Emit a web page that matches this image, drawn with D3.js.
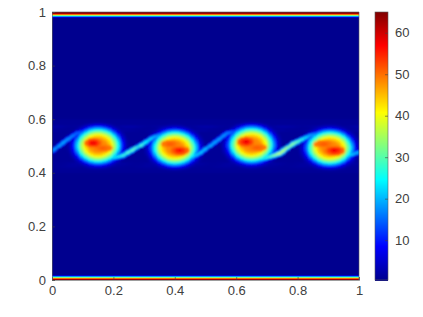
<!DOCTYPE html>
<html><head><meta charset="utf-8">
<style>html,body{margin:0;padding:0;background:#fff;overflow:hidden}svg{display:block}text{font-family:"Liberation Sans",Arial,sans-serif;font-size:13px;fill:#404040}</style>
<script src="https://cdnjs.cloudflare.com/ajax/libs/d3/7.8.5/d3.min.js"></script>
</head><body><script>
const xTicks=[0,0.2,0.4,0.6,0.8,1];
const yTicks=[0,0.2,0.4,0.6,0.8,1];
const cbTicks=[10,20,30,40,50,60];
const cbDomain=[0.4,65];
const jetStops=["#00008f","#0000ff","#0080ff","#00ffff","#80ff80","#ffff00","#ff8000","#ff0000","#800000"];
// vortices
const vortexX=[0.150,0.400,0.650,0.905];
const vortexY=[0.503,0.495,0.506,0.495];
const vortexRx=[0.080,0.080,0.080,0.082];
const vortexRy=[0.071,0.069,0.071,0.069];
// two hot patches inside each vortex: [x, y, rx, ry, peak]
const hotA=[[0.135,0.514,0.030,0.020,60],[0.415,0.484,0.034,0.020,58],[0.632,0.518,0.030,0.020,60],[0.920,0.484,0.036,0.021,59]];
const hotB=[[0.165,0.494,0.034,0.017,52],[0.385,0.510,0.032,0.016,52],[0.668,0.496,0.034,0.017,52],[0.885,0.510,0.034,0.016,52]];
const ringRadius=[0,0.35,0.52,0.66,0.78,0.88,1,1.12,1.28];
const ringValue=[49,48,43,36,28,20,10,4,1];
// filaments: x, y, value, half-width
const filaments=[
 [[0,0.481,20,.012],[0.04,0.519,22,.012],[0.081,0.549,17,.013],[0.124,0.562,10,.015]],
 [[0.14,0.444,12,.014],[0.179,0.452,23,.013],[0.231,0.466,30,.013],[0.261,0.485,34,.012],[0.287,0.504,32,.012],[0.329,0.534,24,.012],[0.384,0.558,10,.015]],
 [[0.384,0.444,12,.014],[0.45,0.457,24,.013],[0.482,0.474,24,.012],[0.524,0.511,22,.012],[0.57,0.549,19,.013],[0.622,0.562,10,.015]],
 [[0.629,0.444,12,.014],[0.687,0.453,26,.013],[0.743,0.474,42,.013],[0.785,0.511,38,.012],[0.84,0.541,22,.012],[0.896,0.558,10,.015]],
 [[0.889,0.444,12,.014],[0.948,0.459,26,.013],[1,0.478,22,.012]]
];
// faint horizontal streaks
const streakY=[0.572,0.560,0.436,0.426];
const streakValue=[4.5,3.5,4,3];
// wall layers: distance from wall, value
const wallDist=[0,0.005,0.0085,0.012,0.015,0.018,0.022];
const wallValue=[65,62,45,30,18,6,0.4];

const W=423,H=317,m={l:52,r:359,t:12,b:280};
const x=d3.scaleLinear().domain([0,1]).range([m.l,m.r]);
const y=d3.scaleLinear().domain([0,1]).range([m.b,m.t]);
const cy=d3.scaleLinear().domain(cbDomain).range([m.b,m.t]);
const color=d3.scaleLinear().domain(jetStops.map((_,i)=>cbDomain[0]+(cbDomain[1]-cbDomain[0])*i/(jetStops.length-1))).range(jetStops).clamp(true);
const ring=d3.scaleLinear().domain(ringRadius).range(ringValue).clamp(true);
const wall=d3.scaleLinear().domain(wallDist).range(wallValue).clamp(true);

function field(px,py){
  let v=cbDomain[0];
  streakY.forEach((s,i)=>{v=Math.max(v,streakValue[i]*(1-Math.abs(py-s)/0.004)*(0.75+0.25*Math.cos(px*50+i)))});
  filaments.forEach(f=>{for(let i=0;i<f.length-1;i++){
    const a=f[i],b=f[i+1],dx=b[0]-a[0],dy=b[1]-a[1];
    const t=Math.max(0,Math.min(1,((px-a[0])*dx+(py-a[1])*dy)/(dx*dx+dy*dy)));
    const d=Math.hypot(px-a[0]-t*dx,py-a[1]-t*dy);
    const w=a[3]+t*(b[3]-a[3]),val=a[2]+t*(b[2]-a[2]);
    v=Math.max(v,val*Math.max(0,1-d/w));
  }});
  vortexX.forEach((c,i)=>{
    const r=Math.hypot((px-c)/vortexRx[i],(py-vortexY[i])/vortexRy[i]);
    let g=ring(r);
    [hotA[i],hotB[i]].forEach(h=>{
      const q=Math.hypot((px-h[0])/h[2],(py-h[1])/h[3]);
      if(q<1)g=Math.max(g,h[4]-(h[4]-48)*q);
    });
    v=Math.max(v,g);
  });
  return v;
}
const svg=d3.select("body").append("svg").attr("width",W).attr("height",H);
const defs=svg.append("defs");
defs.append("clipPath").attr("id","plot").append("rect").attr("x",x(0)).attr("y",y(1)).attr("width",x(1)-x(0)).attr("height",y(0)-y(1));
defs.append("filter").attr("id","soft").attr("x","-5%").attr("y","-5%").attr("width","110%").attr("height","110%").append("feGaussianBlur").attr("stdDeviation",0.8);
svg.append("rect").attr("x",x(0)).attr("y",y(1)).attr("width",x(1)-x(0)).attr("height",y(0)-y(1)).attr("fill",color(cbDomain[0]));
const nx=240,ny=280,cells=[];
for(let i=0;i<nx;i++)for(let j=0;j<ny;j++){
  const px=i/nx,py=j/ny,cx=(i+.5)/nx,cyy=(j+.5)/ny;
  if(cyy<0.40||cyy>0.60)continue;
  const v=field(cx,cyy);
  if(v>0.6)cells.push({px,py,v});
}
svg.append("g").attr("clip-path","url(#plot)").append("g").attr("filter","url(#soft)").attr("shape-rendering","crispEdges").selectAll("rect").data(cells).join("rect")
 .attr("x",d=>x(d.px)).attr("y",d=>y(d.py+1/ny)).attr("width",(x(1)-x(0))/nx+.5).attr("height",(y(0)-y(1))/ny+.5).attr("fill",d=>color(d.v));
const wallRows=d3.range(0,0.024,1/268);
const wallLayer=svg.append("g").attr("clip-path","url(#plot)");
[0,1].forEach(side=>{
 wallLayer.append("g").attr("shape-rendering","crispEdges").selectAll("rect").data(wallRows).join("rect")
  .attr("x",x(0)).attr("width",x(1)-x(0))
  .attr("y",d=>side?y(1-d):y(d+1/268)).attr("height",(y(0)-y(1))/268+.5)
  .attr("fill",d=>color(wall(d)));
});
// axes
const ax=d3.axisBottom(x).tickValues(xTicks).tickFormat(d3.format("~g")).tickSize(-3).tickPadding(6);
const ay=d3.axisLeft(y).tickValues(yTicks).tickFormat(d3.format("~g")).tickSize(-3).tickPadding(6);
const gx=svg.append("g").attr("transform",`translate(0,${m.b})`).call(ax);
const gy=svg.append("g").attr("transform",`translate(${m.l},0)`).call(ay);
[gx,gy].forEach(g=>{g.select(".domain").attr("stroke","#5a5a5a").attr("stroke-width",.6);g.selectAll(".tick line").attr("stroke","#404040").attr("stroke-width",.6);g.selectAll("text").attr("font-size",13).attr("font-family",null).attr("fill","#404040")});
svg.append("path").attr("d",`M${m.l},${m.t}H${m.r}V${m.b}`).attr("fill","none").attr("stroke","#5a5a5a").attr("stroke-width",.6);
// colorbar
const cb={l:375,r:388};
const rows=d3.range(m.t,m.b);
svg.append("g").attr("shape-rendering","crispEdges").selectAll("rect").data(rows).join("rect")
 .attr("x",cb.l).attr("y",d=>d).attr("width",cb.r-cb.l).attr("height",1.5).attr("fill",d=>color(cy.invert(d+.5)));
const ac=d3.axisRight(cy).tickValues(cbTicks).tickSize(-3).tickPadding(7);
const gc=svg.append("g").attr("transform",`translate(${cb.r},0)`).call(ac);
gc.select(".domain").remove();
gc.selectAll(".tick line").attr("stroke","#404040").attr("stroke-width",.6);
gc.selectAll("text").attr("font-size",13).attr("font-family",null).attr("fill","#404040");
svg.append("rect").attr("x",cb.l).attr("y",m.t).attr("width",cb.r-cb.l).attr("height",m.b-m.t).attr("fill","none").attr("stroke","#5a5a5a").attr("stroke-width",.6);
</script></body></html>
